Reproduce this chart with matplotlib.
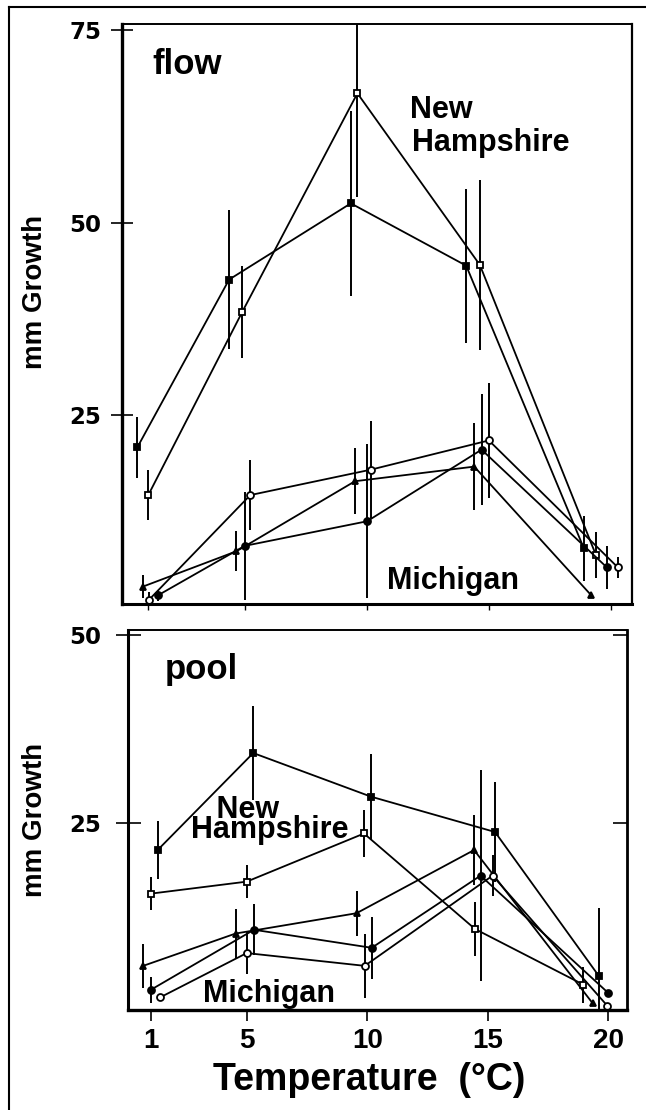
import matplotlib
matplotlib.use("Agg")
import matplotlib.pyplot as plt
from matplotlib.lines import Line2D

plt.rcParams["font.family"] = ["Liberation Sans", "DejaVu Sans"]
plt.rcParams["font.weight"] = "bold"

# ---- flow panel (top) ----
nh_flow_a_t = [0.56, 4.33, 9.33, 14.07, 18.9]
nh_flow_a = [20.8, 42.6, 52.5, 44.4, 7.7]
nh_flow_a_err = [4.0, 9.0, 12.0, 10.0, 4.2]

nh_flow_b_t = [1.01, 4.87, 9.6, 14.63, 19.4]
nh_flow_b = [14.6, 38.4, 66.8, 44.5, 6.8]
nh_flow_b_err = [3.3, 6.0, 13.5, 11.0, 3.0]

mi_flow_p_t = [0.78, 4.63, 9.5, 14.4, 19.2]
mi_flow_p = [2.7, 7.3, 16.4, 18.3, 1.6]
mi_flow_p_err = [1.5, 2.6, 4.3, 5.6, 0.0]

mi_flow_q_t = [1.04, 5.2, 10.15, 15.0, 20.3]
mi_flow_q = [1.0, 14.6, 17.9, 21.7, 5.2]
mi_flow_q_err = [1.0, 4.6, 6.3, 7.5, 1.4]

mi_flow_r_t = [1.42, 4.97, 10.0, 14.7, 19.85]
mi_flow_r = [1.6, 8.0, 11.2, 20.5, 5.2]
mi_flow_r_err = [0.7, 7.0, 10.0, 7.2, 2.8]

# ---- pool panel (bottom) ----
nh_pool_a_t = [1.29, 5.26, 10.15, 15.3, 19.6]
nh_pool_a = [21.4, 34.3, 28.5, 23.8, 4.7]
nh_pool_a_err = [3.8, 6.2, 5.7, 6.7, 9.0]

nh_pool_b_t = [1.0, 4.99, 9.86, 14.47, 18.97]
nh_pool_b = [15.6, 17.2, 23.6, 10.9, 3.5]
nh_pool_b_err = [2.2, 2.2, 3.1, 3.6, 2.4]

mi_pool_p_t = [0.69, 4.53, 9.55, 14.43, 19.36]
mi_pool_p = [6.0, 10.3, 13.0, 21.4, 1.0]
mi_pool_p_err = [2.9, 3.3, 3.0, 4.6, 0.0]

mi_pool_q_t = [1.0, 5.29, 10.18, 14.7, 20.0]
mi_pool_q = [2.8, 10.8, 8.4, 18.0, 2.4]
mi_pool_q_err = [1.7, 3.4, 4.1, 14.0, 0.0]

mi_pool_r_t = [1.39, 4.99, 9.89, 15.2, 19.96]
mi_pool_r = [1.8, 7.7, 6.0, 18.0, 0.7]
mi_pool_r_err = [0.0, 2.8, 4.3, 2.7, 0.0]

temp_ticks = [1, 5, 10, 15, 20]


def draw_series(ax, t, v, err, marker, face):
    ax.errorbar(t, v, yerr=err, color="k", lw=1.3, elinewidth=1.4, capsize=0,
                marker=marker, ms=5, mfc=face, mec="k", mew=1.3)


def style_ylabels(ax, size):
    for lab in ax.get_yticklabels():
        lab.set_fontfamily("DejaVu Sans")
        lab.set_fontweight("bold")
        lab.set_fontsize(size)


fig = plt.figure(figsize=(6.46, 11.10), dpi=100)

# figure frame (left and top only)
fig.add_artist(Line2D([9 / 646, 9 / 646], [0, 1 - 7 / 1110], transform=fig.transFigure, color="k", lw=1.5))
fig.add_artist(Line2D([9 / 646, 1], [1 - 7 / 1110, 1 - 7 / 1110], transform=fig.transFigure, color="k", lw=1.5))

# top panel
ax1 = fig.add_axes([122 / 646, 1 - 604 / 1110, 510 / 646, 580 / 1110])
draw_series(ax1, nh_flow_a_t, nh_flow_a, nh_flow_a_err, "s", "k")
draw_series(ax1, nh_flow_b_t, nh_flow_b, nh_flow_b_err, "s", "w")
draw_series(ax1, mi_flow_p_t, mi_flow_p, mi_flow_p_err, "^", "k")
draw_series(ax1, mi_flow_q_t, mi_flow_q, mi_flow_q_err, "o", "w")
draw_series(ax1, mi_flow_r_t, mi_flow_r, mi_flow_r_err, "o", "k")
ax1.set_xlim(-0.07, 20.88)
ax1.set_ylim(0.45, 75.8)
ax1.set_xticks(temp_ticks)
ax1.set_yticks([25, 50, 75])
ax1.tick_params(axis="x", direction="out", length=4, width=1, labelbottom=False)
ax1.tick_params(axis="y", direction="inout", length=16, width=1.2, pad=7)
style_ylabels(ax1, 16.5)
ax1.spines["left"].set_linewidth(2.4)
ax1.spines["bottom"].set_linewidth(2.2)
ax1.spines["top"].set_linewidth(1.4)
ax1.spines["right"].set_linewidth(1.6)
ax1.text(1.16, 69.3, "flow", fontsize=25, fontweight="bold", va="baseline")
ax1.text(11.76, 63.6, "New", fontsize=22, fontweight="bold", va="baseline")
ax1.text(11.83, 59.3, "Hampshire", fontsize=22, fontweight="bold", va="baseline")
ax1.text(10.8, 2.4, "Michigan", fontsize=22, fontweight="bold", va="baseline")

# bottom panel
ax2 = fig.add_axes([128 / 646, 1 - 1010 / 1110, 499 / 646, 380 / 1110])
draw_series(ax2, nh_pool_a_t, nh_pool_a, nh_pool_a_err, "s", "k")
draw_series(ax2, nh_pool_b_t, nh_pool_b, nh_pool_b_err, "s", "w")
draw_series(ax2, mi_pool_p_t, mi_pool_p, mi_pool_p_err, "^", "k")
draw_series(ax2, mi_pool_q_t, mi_pool_q, mi_pool_q_err, "o", "k")
draw_series(ax2, mi_pool_r_t, mi_pool_r, mi_pool_r_err, "o", "w")
ax2.set_xlim(0.06, 20.78)
ax2.set_ylim(0.13, 50.66)
ax2.set_xticks(temp_ticks)
ax2.set_yticks([25, 50])
ax2.tick_params(axis="x", direction="out", length=8, width=1.2, pad=5, labelsize=20)
ax2.tick_params(axis="y", direction="inout", length=18, width=1.2, pad=10)
style_ylabels(ax2, 16.5)
right = ax2.secondary_yaxis("right")
right.set_yticks([25, 50])
right.tick_params(direction="in", length=10, width=1.2, labelright=False)
right.spines["right"].set_linewidth(2.0)
ax2.spines["left"].set_linewidth(2.2)
ax2.spines["bottom"].set_linewidth(2.4)
ax2.spines["top"].set_linewidth(1.4)
ax2.text(1.59, 44.1, "pool", fontsize=25, fontweight="bold", va="baseline")
# the two lines sit tightly stacked in the original
ax2.text(2.69, 23.0, "   New\nHampshire", fontsize=22, fontweight="bold", va="baseline",
         multialignment="left", linespacing=0.55)
ax2.text(3.17, 1.2, "Michigan", fontsize=22, fontweight="bold", va="baseline")

fig.text(35 / 646, 1 - 292 / 1110, "mm Growth", rotation=90, fontsize=20, fontweight="bold",
         ha="center", va="center")
fig.text(35 / 646, 1 - 820 / 1110, "mm Growth", rotation=90, fontsize=20, fontweight="bold",
         ha="center", va="center")
fig.text(369 / 646, 1 - 1090 / 1110, "Temperature  (°C)", fontsize=27, fontweight="bold",
         ha="center", va="baseline")

fig.savefig("out.png", dpi=100)
